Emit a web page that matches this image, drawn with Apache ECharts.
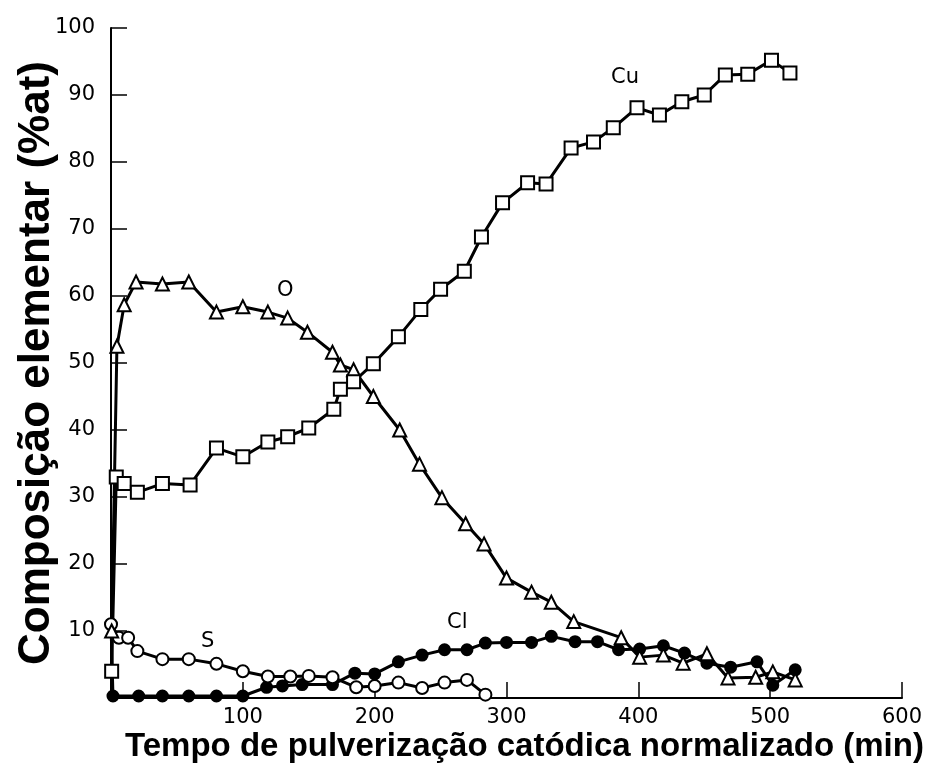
<!DOCTYPE html>
<html>
<head>
<meta charset="utf-8">
<script src="https://cdn.jsdelivr.net/npm/echarts@6/dist/echarts.min.js"></script>
<style>
  html, body { margin: 0; padding: 0; background: #fff; }
  #chart { width: 932px; height: 770px; }
</style>
</head>
<body>
<div id="chart"></div>
<script>
// valores: [tempo (min), composição (%at)]
const cuData = [
  [0.5, 4], [4, 33], [10, 32], [20, 30.7], [39, 32], [60, 31.8], [80, 37.3],
  [100, 36], [119, 38.2], [134, 39], [150, 40.3], [169, 43.1], [174, 46.1],
  [184, 47.2], [199, 49.9], [218, 53.9], [235, 58], [250, 61], [268, 63.7],
  [281, 68.8], [297, 73.9], [316, 76.9], [330, 76.7], [349, 82.1], [366, 83],
  [381, 85.1], [399, 88.1], [416, 87], [433, 89], [450, 90], [466, 93],
  [483, 93.1], [501, 95.2], [515, 93.3]
];
const oData = [
  [0.5, 10], [4.5, 52.5], [10, 58.7], [19, 62.1], [39, 61.8], [59, 62.1],
  [80, 57.6], [100, 58.4], [119, 57.6], [134, 56.7], [149, 54.6], [168, 51.6],
  [174, 49.7], [184, 49], [199, 45], [219, 40], [234, 34.9], [251, 29.9],
  [269, 26], [283, 23], [300, 17.9], [319, 15.8], [334, 14.3], [351, 11.4],
  [387, 9], [401, 6.1], [419, 6.4], [434, 5.2], [452, 6.6], [468, 3],
  [489, 3.1], [502, 3.9], [519, 2.7]
];
const sData = [
  [0, 11], [6, 9], [13, 9], [20, 7], [39, 5.8], [59, 5.8], [80, 5.1],
  [100, 4], [119, 3.2], [136, 3.2], [150, 3.3], [168, 3.1], [186, 1.6],
  [200, 1.8], [218, 2.3], [236, 1.5], [253, 2.3], [270, 2.7], [284, 0.5]
];
const clData = [
  [0, 11], [1.5, 0.3], [21, 0.3], [39, 0.3], [59, 0.3], [80, 0.3], [100, 0.3],
  [118, 1.6], [130, 1.8], [145, 2], [168, 2], [185, 3.7], [200, 3.6],
  [218, 5.4], [236, 6.4], [253, 7.2], [270, 7.2], [284, 8.2], [300, 8.3],
  [319, 8.3], [334, 9.2], [352, 8.4], [369, 8.4], [385, 7.2], [401, 7.3],
  [419, 7.8], [435, 6.7], [452, 5.2], [470, 4.6], [490, 5.4], [502, 1.9],
  [519, 4.2]
];
const xTicks = [0, 100, 200, 300, 400, 500, 600];
const yTicks = [0, 10, 20, 30, 40, 50, 60, 70, 80, 90, 100];

const chart = echarts.init(document.getElementById('chart'));

const axisCommon = {
  axisLine: { lineStyle: { color: '#000', width: 2 } },
  axisTick: { inside: true, length: 16, lineStyle: { color: '#000', width: 1.5 } },
  splitLine: { show: false },
  nameMoveOverlap: false,
  nameTextStyle: { color: '#000', fontFamily: 'Liberation Sans', fontWeight: 'bold' }
};

function lineSeries(name, data, symbol, size, fill) {
  return {
    name: name,
    type: 'line',
    data: data,
    symbol: symbol,
    symbolSize: size,
    showAllSymbol: true,
    lineStyle: { color: '#000', width: 3 },
    itemStyle: { color: fill, borderColor: '#000', borderWidth: 2 },
    emphasis: { disabled: true },
    animation: false
  };
}

// rótulos das curvas
const labelFont = '21px DejaVu Sans';

chart.setOption({
  backgroundColor: '#fff',
  animation: false,
  grid: { left: 111, right: 30, top: 28, bottom: 72, outerBoundsMode: 'none' },
  xAxis: Object.assign({}, axisCommon, {
    type: 'value',
    min: xTicks[0],
    max: xTicks[xTicks.length - 1],
    interval: 100,
    name: 'Tempo de pulverização catódica normalizado (min)',
    nameLocation: 'middle',
    nameGap: 32,
    nameTextStyle: Object.assign({}, axisCommon.nameTextStyle, { fontSize: 33, padding: [0, 0, 0, 36] }),
    axisLabel: {
      color: '#000', fontFamily: 'DejaVu Sans', fontSize: 21, margin: 9,
      formatter: v => (v === 0 ? '' : String(v))
    }
  }),
  yAxis: Object.assign({}, axisCommon, {
    type: 'value',
    min: yTicks[0],
    max: yTicks[yTicks.length - 1],
    interval: 10,
    name: 'Composição elementar (%at)',
    nameLocation: 'middle',
    nameGap: 52,
    nameTextStyle: Object.assign({}, axisCommon.nameTextStyle, { fontSize: 44 }),
    axisLabel: {
      color: '#000', fontFamily: 'DejaVu Sans', fontSize: 21, margin: 16,
      formatter: v => (v === 0 ? '' : String(v))
    }
  }),
  graphic: [
    { type: 'text', left: 611, top: 67, style: { text: 'Cu', font: labelFont, fill: '#000' } },
    { type: 'text', left: 277, top: 280, style: { text: 'O', font: labelFont, fill: '#000' } },
    { type: 'text', left: 201, top: 631, style: { text: 'S', font: labelFont, fill: '#000' } },
    { type: 'text', left: 447, top: 612, style: { text: 'Cl', font: labelFont, fill: '#000' } }
  ],
  series: [
    lineSeries('Cl', clData, 'circle', 11, '#000'),
    lineSeries('S', sData, 'circle', 12, '#fff'),
    lineSeries('O', oData, 'triangle', 13, '#fff'),
    lineSeries('Cu', cuData, 'rect', 13, '#fff')
  ]
});
</script>
</body>
</html>
